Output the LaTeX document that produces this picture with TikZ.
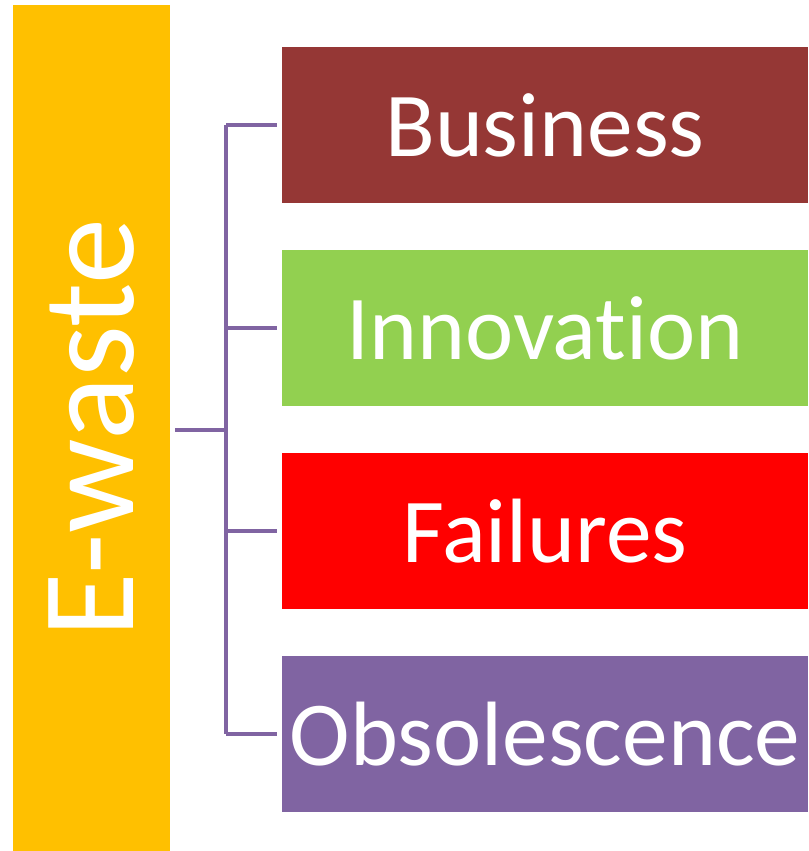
\documentclass[tikz,border=0pt]{standalone}
\usepackage{fontspec}
\setmainfont{Carlito}[Ligatures=NoCommon]
\usepackage{xcolor}
\usetikzlibrary{calc}

\definecolor{ewyellow}{HTML}{FFC000}
\definecolor{ewbrown}{HTML}{953735}
\definecolor{ewgreen}{HTML}{92D050}
\definecolor{ewred}{HTML}{FF0000}
\definecolor{ewpurple}{HTML}{8064A2}

\tikzset{
	cause/.style={minimum width=13.15cm, minimum height=3.9cm, inner sep=0pt, text=white,
		font=\fontsize{65}{70}\selectfont},
	link/.style={draw=ewpurple, line width=3pt}
}

\begin{document}
\begin{tikzpicture}
			\useasboundingbox (0,0) rectangle (20.2,21.275);
			\node[fill=ewyellow, rotate=90, minimum width=21.15cm, minimum height=3.925cm, inner sep=0pt,
				text=white, font=\fontsize{94}{100}\selectfont] (E) at (2.2875,10.575) {E-waste};
			\node[cause, fill=ewbrown] (B) at (13.625,18.15) {Business};
			\node[cause, fill=ewgreen] (I) at (13.625,13.075) {Innovation};
			\node[cause, fill=ewred] (F) at (13.625,8.0) {Failures};
			\node[cause, fill=ewpurple] (O) at (13.625,2.925) {Obsolescence};
			\coordinate (S) at (5.65,10.525);
			%
			\draw[link] ([xshift=0.125cm]E.south |- S) -- (S);
			\draw[link] (S |- B.west) -- (S |- O.west);
			\draw[link] (S |- B.west) -- ([xshift=-0.125cm]B.west);
			\draw[link] (S |- I.west) -- ([xshift=-0.125cm]I.west);
			\draw[link] (S |- F.west) -- ([xshift=-0.125cm]F.west);
			\draw[link] (S |- O.west) -- ([xshift=-0.125cm]O.west);
		\end{tikzpicture}
\end{document}
